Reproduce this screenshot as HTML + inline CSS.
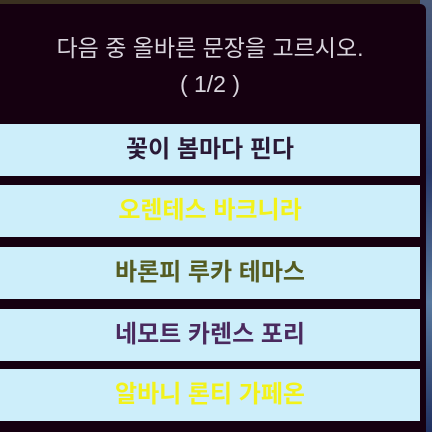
<!DOCTYPE html>
<html><head><meta charset="utf-8"><style>
html,body{margin:0;padding:0;width:432px;height:432px;overflow:hidden;background:#6a5a3a;}
#bgr{position:absolute;right:0;top:0;width:12px;height:432px;background:linear-gradient(#4a5a7a,#2a3a6a 40%,#5a7aa0 70%,#203060);}
#bgt{position:absolute;left:0;top:0;width:432px;height:4px;background:#3a3020;}
#panel{position:absolute;left:0;top:4px;width:426px;height:428px;background:#150010;border-top-right-radius:6px;}
.q{position:absolute;left:0;width:420px;text-align:center;color:#d8d4dc;font-family:"Liberation Sans","Noto Sans CJK KR",sans-serif;font-size:23px;line-height:28px;}
.opt{position:absolute;left:0;width:420px;height:52px;background:#cdeefa;text-align:center;line-height:52px;font-family:"Liberation Sans","Noto Sans CJK KR",sans-serif;font-size:24px;font-weight:bold;}
</style></head><body>
<div id="bgt"></div>
<div id="bgr"></div>
<div id="panel"></div>
<div class="q" style="top:34px">다음 중 올바른 문장을 고르시오.</div>
<div class="q" style="top:70px">( 1/2 )</div>
<div class="opt" style="top:124px;color:#2a1a36">꽃이 봄마다 핀다</div>
<div class="opt" style="top:185px;color:#f2f21a">오렌테스 바크니라</div>
<div class="opt" style="top:247px;color:#555c22">바론피 루카 테마스</div>
<div class="opt" style="top:309px;color:#4a2a5e">네모트 카렌스 포리</div>
<div class="opt" style="top:369px;color:#f2f21a">알바니 론티 가페온</div>
</body></html>
